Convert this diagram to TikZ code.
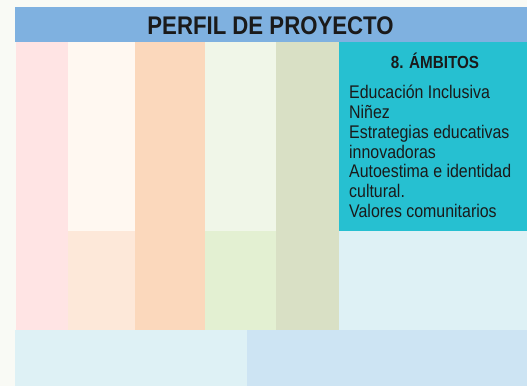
\documentclass[tikz,border=0pt]{standalone}
\usepackage{fontspec}
\setmainfont{Liberation Sans}
\newfontfamily\narrowfont[FakeStretch=0.87]{Liberation Sans}
\usepackage{tikz}
\usetikzlibrary{positioning}

\definecolor{bgpage}{HTML}{F9FAF5}
\definecolor{headblue}{HTML}{7FB1E0}
\definecolor{pinkc}{HTML}{FFE4E4}
\definecolor{creamtop}{HTML}{FFF8F1}
\definecolor{creambot}{HTML}{FDE8D9}
\definecolor{peachc}{HTML}{FBD8BC}
\definecolor{greentop}{HTML}{F0F6E8}
\definecolor{greenbot}{HTML}{E3F0D2}
\definecolor{olivec}{HTML}{D9E0C5}
\definecolor{tealc}{HTML}{26C0D1}
\definecolor{paleblue}{HTML}{DEF1F5}
\definecolor{skyblue}{HTML}{CDE4F3}
\definecolor{inkc}{HTML}{1A1A1A}

\begin{document}
\begin{tikzpicture}[x=1pt,y=-1pt]
        \tikzstyle{cell} = [rectangle, anchor=north west, inner sep=0pt, outer sep=0pt]
        \tikzstyle{ctext} = [text=inkc, inner sep=0pt]

        \fill[bgpage] (0,0) rectangle (527,386);
        \useasboundingbox (0,0) rectangle (527,386);

        % header
        \node[cell, fill=headblue, minimum width=512pt, minimum height=35pt] (head) at (15,7) {};
        \node[ctext, font=\narrowfont\bfseries\fontsize{25.5}{28}\selectfont] (title) at (270.5,26) {PERFIL DE PROYECTO};

        % columns
        \node[cell, fill=pinkc, minimum width=52pt, minimum height=288pt] (c1) at (16,42) {};
        \node[cell, fill=creamtop, minimum width=67pt, minimum height=189pt] (c2a) at (68,42) {};
        \node[cell, fill=creambot, minimum width=67pt, minimum height=99pt] (c2b) at (68,231) {};
        \node[cell, fill=peachc, minimum width=70pt, minimum height=288pt] (c3) at (135,42) {};
        \node[cell, fill=greentop, minimum width=71pt, minimum height=189pt] (c4a) at (205,42) {};
        \node[cell, fill=greenbot, minimum width=71pt, minimum height=99pt] (c4b) at (205,231) {};
        \node[cell, fill=olivec, minimum width=63pt, minimum height=288pt] (c5) at (276,42) {};
        \node[cell, fill=tealc, minimum width=188pt, minimum height=189pt] (c6a) at (339,42) {};
        \node[cell, fill=paleblue, minimum width=188pt, minimum height=99pt] (c6b) at (339,231) {};

        % bottom row
        \node[cell, fill=paleblue, minimum width=232pt, minimum height=56pt] (b1) at (15,330) {};
        \node[cell, fill=skyblue, minimum width=280pt, minimum height=56pt] (b2) at (247,330) {};

        % ambitos
        \node[ctext, font=\narrowfont\bfseries\fontsize{17.5}{20}\selectfont] (amb) at (435,61) {8. ÁMBITOS};
        \node[ctext, anchor=north west, align=left, font=\narrowfont\fontsize{18.3}{19.8}\selectfont] (list) at (349,85)
          {Educación Inclusiva\\Niñez\\Estrategias educativas\\innovadoras\\Autoestima e identidad\\cultural.\\Valores comunitarios};
\end{tikzpicture}
\end{document}
